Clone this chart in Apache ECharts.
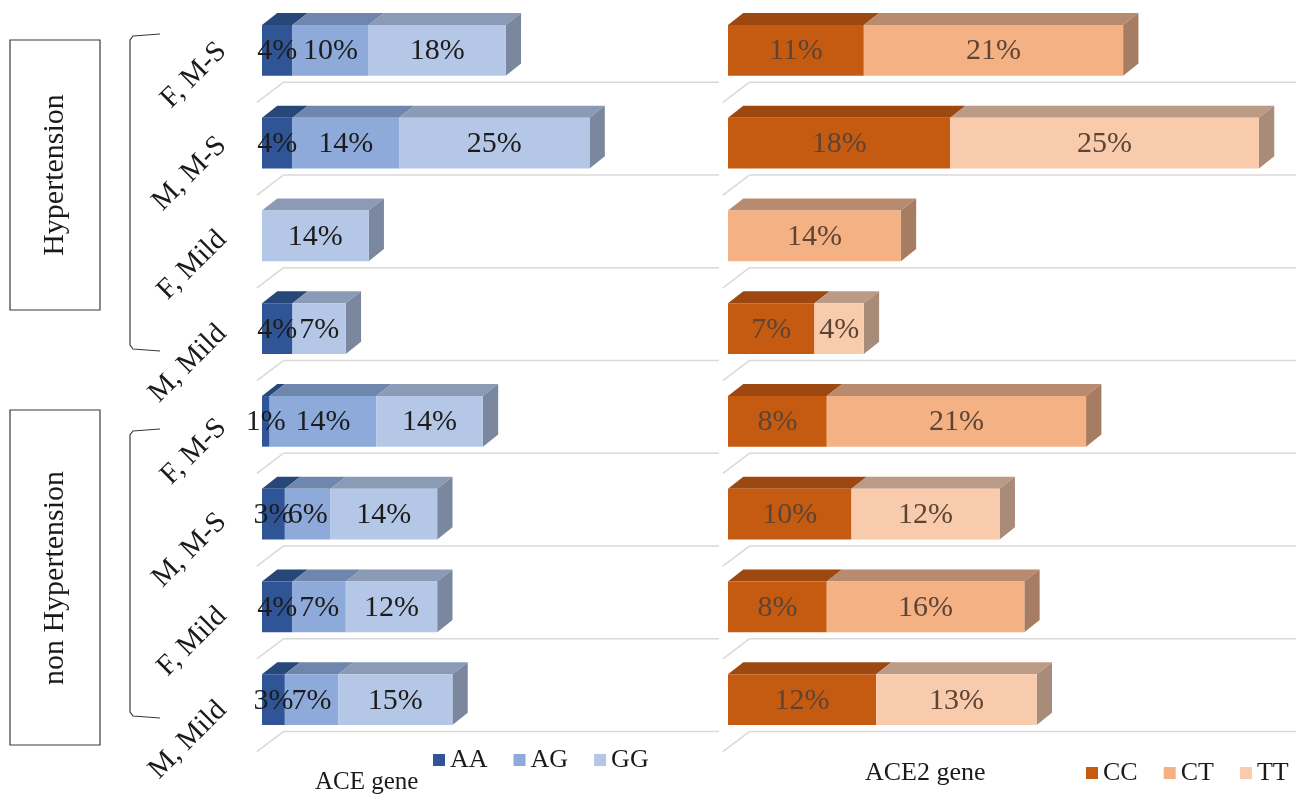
<!DOCTYPE html>
<html><head><meta charset="utf-8">
<script src="https://cdn.jsdelivr.net/npm/echarts@6/dist/echarts.min.js"></script>
<style>html,body{margin:0;padding:0;background:#fff}#c{width:1308px;height:798px}</style>
</head><body><div id="c"></div>
<script>
// ---- data ----
const categories = ['F, M-S','M, M-S','F, Mild','M, Mild','F, M-S','M, M-S','F, Mild','M, Mild'];
const aceAA = [4,4,0,4,1,3,4,3];
const aceAG = [10,14,0,0,14,6,7,7];
const aceGG = [18,25,14,7,14,14,12,15];
const ace2CC = [11,18,0,7,8,10,8,12];
const ace2CT = [21,0,14,0,21,0,16,0];
const ace2TT = [0,25,0,4,0,12,0,13];
const aceNames = ['AA','AG','GG'];
const ace2Names = ['CC','CT','TT'];
const groupNames = ['Hypertension','non Hypertension'];
const panelTitles = ['ACE gene','ACE2 gene'];

const SERIF = "'Times New Roman','Liberation Serif',serif";

// colours: [front, top, side]
const aceColors = [['#2f5597','#264777','#22406a'],['#8eaadb','#6f86ad','#647a9e'],['#b4c7e7','#8b9bb6','#7a879e']];
const ace2Colors = [['#c55a11','#9c4810','#8a4010'],['#f4b183','#b98b6e','#a67c62'],['#f8cbad','#bb9a86','#a88b78']];

function buildRows(sets){
  // per series data: [start, end, cat, value, isLast]
  return sets.map((vals, k) => vals.map((v, i) => {
    let s = 0; for (let j = 0; j < k; j++) s += sets[j][i];
    let last = 1; for (let j = k+1; j < sets.length; j++) if (sets[j][i] > 0) last = 0;
    return [s, s+v, i, v, last];
  }));
}

function barRender(cols){
  return function(params, api){
    const v = api.value(3); if (!v) return null;
    const a = api.coord([api.value(0), api.value(2)]);
    const b = api.coord([api.value(1), api.value(2)]);
    const band = api.size([0,1])[1];
    const h = band*0.545, dx = band*0.165, dy = band*0.13;
    const top = a[1]-h/2, bot = a[1]+h/2;
    const ch = [];
    ch.push({type:'polygon', shape:{points:[[a[0],top],[b[0],top],[b[0]+dx,top-dy],[a[0]+dx,top-dy]]}, style:{fill:cols[1]}});
    if (api.value(4)) ch.push({type:'polygon', shape:{points:[[b[0],top],[b[0]+dx,top-dy],[b[0]+dx,bot-dy],[b[0],bot]]}, style:{fill:cols[2]}});
    ch.push({type:'rect', shape:{x:a[0], y:top, width:b[0]-a[0], height:h}, style:{fill:cols[0]}});
    return {type:'group', children:ch};
  };
}
function labelRender(color){
  return function(params, api){
    const v = api.value(3); if (!v) return null;
    const a = api.coord([api.value(0), api.value(2)]);
    const b = api.coord([api.value(1), api.value(2)]);
    return {type:'text', style:{text: v+'%', x:(a[0]+b[0])/2, y:a[1]+1, align:'center', verticalAlign:'middle', font:'30px '+SERIF, fill:color}};
  };
}
function gridRender(xMax){
  return function(params, api){
    const c = api.coord([0, api.value(0)]);
    const e = api.coord([xMax, api.value(0)]);
    const band = api.size([0,1])[1];
    const yb = c[1] + band*0.345, yf = c[1] + band*0.56;
    const xb = c[0] + band*0.23, xf = c[0] - band*0.055;
    return {type:'group', children:[
      {type:'line', shape:{x1:xb, y1:yb, x2:e[0], y2:yb}, style:{stroke:'#d9d9d9', lineWidth:1.5}},
      {type:'line', shape:{x1:xf, y1:yf, x2:xb, y2:yb}, style:{stroke:'#d9d9d9', lineWidth:1.5}}
    ]};
  };
}

const aceRows = buildRows([aceAA, aceAG, aceGG]);
const ace2Rows = buildRows([ace2CC, ace2CT, ace2TT]);
const catIdx = categories.map((c,i)=>[i]);
const X0MAX = 60, X1MAX = 46;

const series = [];
series.push({type:'custom', name:'g0', xAxisIndex:0, yAxisIndex:0, z:1, clip:false, silent:true, data:catIdx, encode:{y:0}, renderItem:gridRender(X0MAX)});
series.push({type:'custom', name:'g1', xAxisIndex:1, yAxisIndex:1, z:1, clip:false, silent:true, data:catIdx, encode:{y:0}, renderItem:gridRender(X1MAX)});
aceRows.forEach((rows,k)=>{
  series.push({type:'custom', name:aceNames[k], xAxisIndex:0, yAxisIndex:0, z:2, clip:false, itemStyle:{color:aceColors[k][0]}, data:rows, encode:{x:[0,1], y:2}, renderItem:barRender(aceColors[k])});
});
ace2Rows.forEach((rows,k)=>{
  series.push({type:'custom', name:ace2Names[k], xAxisIndex:1, yAxisIndex:1, z:2, clip:false, itemStyle:{color:ace2Colors[k][0]}, data:rows, encode:{x:[0,1], y:2}, renderItem:barRender(ace2Colors[k])});
});
series.push({type:'custom', name:'l0', xAxisIndex:0, yAxisIndex:0, z:5, clip:false, silent:true, data:[].concat(...aceRows), encode:{x:[0,1], y:2}, renderItem:labelRender('#1c1c1c')});
series.push({type:'custom', name:'l1', xAxisIndex:1, yAxisIndex:1, z:5, clip:false, silent:true, data:[].concat(...ace2Rows), encode:{x:[0,1], y:2}, renderItem:labelRender('#5e4434')});

const hiddenVal = (gi, max) => ({type:'value', gridIndex:gi, min:0, max:max, show:false});
const hiddenCat = (gi) => ({type:'category', gridIndex:gi, data:categories, inverse:true, show:false});

const option = {
  animation:false,
  backgroundColor:'#ffffff',
  grid:[
    {left:262, top:4, width:457, height:742},
    {left:728, top:4, width:568, height:742},
    {left:262, top:-16, width:10, height:769}
  ],
  xAxis:[hiddenVal(0,X0MAX), hiddenVal(1,X1MAX), hiddenVal(2,1)],
  yAxis:[hiddenCat(0), hiddenCat(1),
    {type:'category', gridIndex:2, data:categories, inverse:true,
     axisLine:{show:false}, axisTick:{show:false}, splitLine:{show:false},
     axisLabel:{rotate:45, interval:0, margin:40, fontFamily:SERIF, fontSize:29, color:'#1a1a1a'}}
  ],
  legend:[
    {data:aceNames, left:428, top:742, icon:'rect', itemWidth:12, itemHeight:12, itemGap:26, selectedMode:false,
     textStyle:{fontFamily:SERIF, fontSize:26, color:'#1a1a1a'}},
    {data:ace2Names, left:1081, top:755, icon:'rect', itemWidth:12, itemHeight:12, itemGap:26, selectedMode:false,
     textStyle:{fontFamily:SERIF, fontSize:26, color:'#1a1a1a'}}
  ],
  title:[
    {text:panelTitles[0], left:310, top:765, textStyle:{fontFamily:SERIF, fontSize:25, fontWeight:'normal', color:'#1a1a1a'}},
    {text:panelTitles[1], left:860, top:755, textStyle:{fontFamily:SERIF, fontSize:26, fontWeight:'normal', color:'#1a1a1a'}}
  ],
  graphic:[
    {type:'rect', shape:{x:10, y:40, width:90, height:270}, style:{fill:'none', stroke:'#3a3a3a', lineWidth:1.2}},
    {type:'text', x:55, y:175, rotation:Math.PI/2, style:{text:groupNames[0], align:'center', verticalAlign:'middle', font:'30px '+SERIF, fill:'#1a1a1a'}},
    {type:'rect', shape:{x:10, y:410, width:90, height:335}, style:{fill:'none', stroke:'#3a3a3a', lineWidth:1.2}},
    {type:'text', x:55, y:578, rotation:Math.PI/2, style:{text:groupNames[1], align:'center', verticalAlign:'middle', font:'30px '+SERIF, fill:'#1a1a1a'}},
    {type:'polyline', shape:{points:[[160,34],[133,36],[130,40],[130,345],[133,349],[160,351]]}, style:{fill:'none', stroke:'#3a3a3a', lineWidth:1.2}},
    {type:'polyline', shape:{points:[[160,429],[133,431],[130,435],[130,712],[133,716],[160,718]]}, style:{fill:'none', stroke:'#3a3a3a', lineWidth:1.2}}
  ],
  series:series
};
const chart = echarts.init(document.getElementById('c'), null, {renderer:'canvas'});
chart.setOption(option);
</script>
</body></html>
